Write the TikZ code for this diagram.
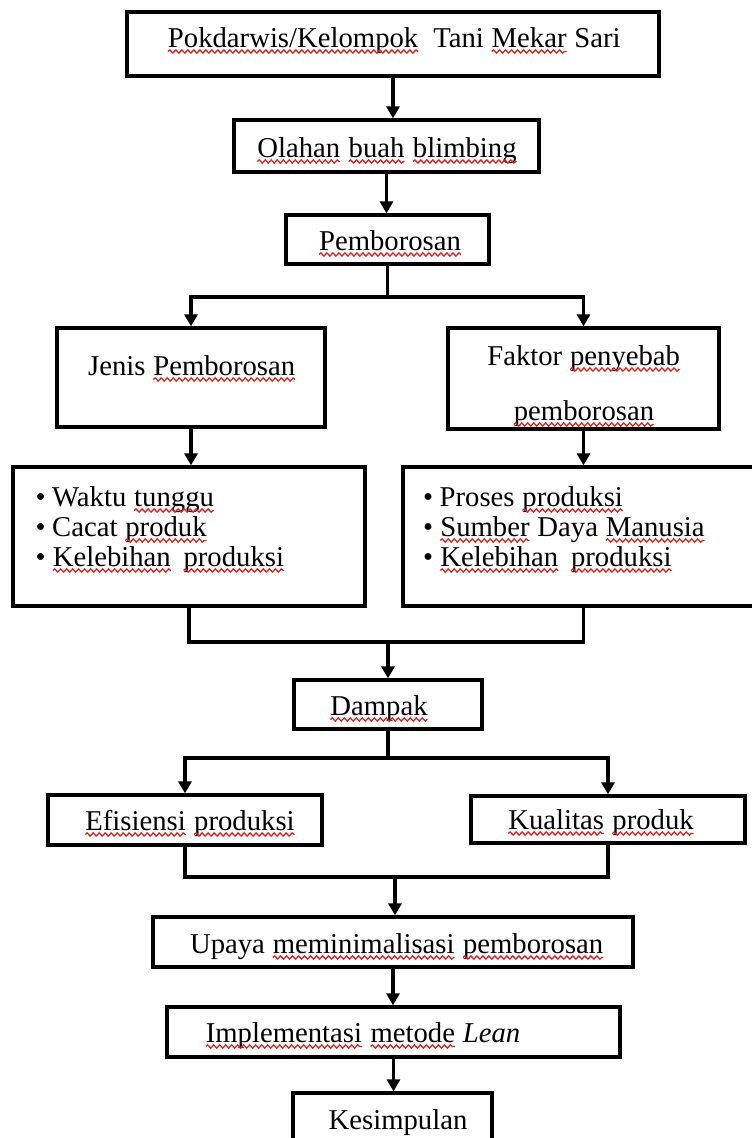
\documentclass[tikz,border=0pt]{standalone}
\usepackage{fontspec}
\setmainfont{Liberation Serif}
\usetikzlibrary{arrows.meta,decorations.pathmorphing}

\definecolor{spellred}{RGB}{225,30,30}
% word with a red wavy underline
\newcommand\spell[1]{\tikz[baseline=(w.base)]{%
  \node[inner sep=0pt, outer sep=0pt, draw=none] (w) {#1};
  \draw[spellred, line width=1.3pt, decorate,
        decoration={snake, segment length=6pt, amplitude=1.6pt}]
    ([yshift=-4.5pt]w.base west) -- ([yshift=-4.5pt]w.base east);}}
\newcommand\bul{\makebox[16.5pt][l]{\textbullet}}

\begin{document}
\begin{tikzpicture}[x=1pt,y=-1pt,
  frame/.style={draw=black, line width=3.3pt, inner sep=0pt},
  txt/.style={font=\fontsize{28.7}{30}\selectfont, inner sep=0pt, anchor=base},
  link/.style={line width=3.3pt, line join=miter},
  arr/.style={link, -{Triangle[width=13pt,length=12pt]}}]

\useasboundingbox (0,0) rectangle (752,1138);
\fill[white] (0,0) rectangle (752,1138);
\clip (0,0) rectangle (752,1138);

% boxes
\node[frame, minimum width=532pt, minimum height=64pt] (b1) at (393,44) {};
\node[frame, minimum width=305pt, minimum height=52pt] (b2) at (386.5,146) {};
\node[frame, minimum width=203pt, minimum height=49pt] (b3) at (387.5,239.5) {};
\node[frame, minimum width=268pt, minimum height=99pt] (b4) at (191,377.5) {};
\node[frame, minimum width=271pt, minimum height=101pt] (b5) at (583.5,378.5) {};
\node[frame, minimum width=352pt, minimum height=139pt] (b6) at (189,536.5) {};
\node[frame, minimum width=387pt, minimum height=139pt] (b7) at (596.5,536.5) {};
\node[frame, minimum width=188pt, minimum height=49pt] (b8) at (388,704.5) {};
\node[frame, minimum width=274pt, minimum height=50pt] (b9) at (185,820) {};
\node[frame, minimum width=274pt, minimum height=47pt] (b10) at (608,819.5) {};
\node[frame, minimum width=480pt, minimum height=50pt] (b11) at (393,942) {};
\node[frame, minimum width=453pt, minimum height=50pt] (b12) at (393.5,1032) {};
\node[frame, minimum width=199pt, minimum height=57pt] (b13) at (392.5,1121.5) {};

% texts
\node[txt] (t1) at (394,47) {\spell{Pokdarwis/Kelompok}\ \ Tani \spell{Mekar} Sari};
\node[txt] (t2) at (387,157) {\spell{Olahan} \spell{buah} \spell{blimbing}};
\node[txt] (t3) at (390,250) {\spell{Pemborosan}};
\node[txt] (t4) at (192,375) {Jenis \spell{Pemborosan}};
\node[txt] (t5a) at (584,365) {Faktor \spell{penyebab}};
\node[txt] (t5b) at (584,420) {\spell{pemborosan}};

\node[txt, anchor=base west] (l1) at (35.5,506) {\bul Waktu \spell{tunggu}};
\node[txt, anchor=base west] (l2) at (35.5,536) {\bul Cacat \spell{produk}};
\node[txt, anchor=base west] (l3) at (35.5,566) {\bul\spell{Kelebihan}\hspace{0.4em}\spell{produksi}};
\node[txt, anchor=base west] (r1) at (423,506) {\bul Proses \spell{produksi}};
\node[txt, anchor=base west] (r2) at (423,536) {\bul\spell{Sumber} Daya \spell{Manusia}};
\node[txt, anchor=base west] (r3) at (423,566) {\bul\spell{Kelebihan}\hspace{0.4em}\spell{produksi}};

\node[txt] (t8) at (379,715) {\spell{Dampak}};
\node[txt] (t9) at (190,830) {\spell{Efisiensi} \spell{produksi}};
\node[txt] (t10) at (601,829) {\spell{Kualitas} \spell{produk}};
\node[txt] (t11) at (397,953) {Upaya \spell{meminimalisasi} \spell{pemborosan}};
\node[txt, anchor=base west] (t12) at (205,1042) {\spell{Implementasi} \spell{metode} \textit{Lean}};
\node[txt] (t13) at (398,1129) {Kesimpulan};

% connectors
\coordinate (s1) at (387.5,297);
\coordinate (m1) at (388,642);
\coordinate (s2) at (388,758);
\coordinate (m2) at (395,877);

\draw[arr] (b1.south) -- (b1.south |- b2.north);
\draw[arr] (b2.south) -- (b2.south |- b3.north);
\draw[link] (b3.south) -- (s1);
\draw[arr] (s1) -| (b4.north);
\draw[arr] (s1) -| (b5.north);
\draw[arr] (b4.south) -- (b4.south |- b6.north);
\draw[arr] (b5.south) -- (b5.south |- b7.north);
\draw[link] (b6.south) |- (m1);
\draw[link] (b5.south |- b7.south) |- (m1);
\draw[arr] (m1) -- (m1 |- b8.north);
\draw[link] (b8.south) -- (s2);
\draw[arr] (s2) -| (b9.north);
\draw[arr] (s2) -| (b10.north);
\draw[link] (b9.south) |- (m2);
\draw[link] (b10.south) |- (m2);
\draw[arr] (m2) -- (m2 |- b11.north);
\draw[arr] (b11.south) -- (b11.south |- b12.north);
\draw[arr] (b12.south) -- (b12.south |- b13.north);
\end{tikzpicture}
\end{document}
